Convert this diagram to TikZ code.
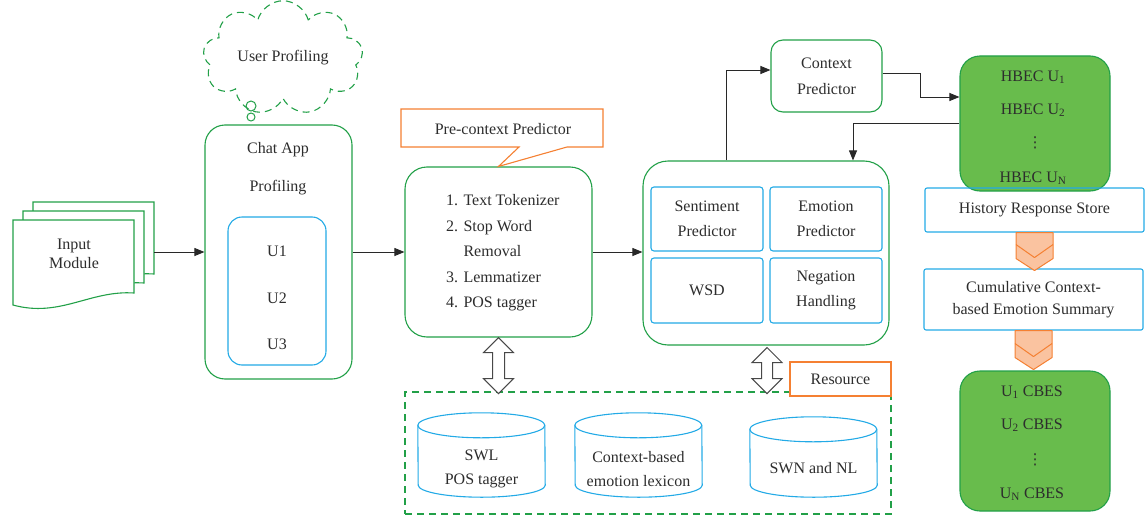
\documentclass[tikz,border=0pt]{standalone}
\usepackage{fontspec}
\setmainfont{Liberation Serif}
\newfontfamily\dejavu{DejaVu Sans}
\usetikzlibrary{shapes.symbols,shapes.geometric,arrows.meta}
\definecolor{gline}{RGB}{34,160,72}
\definecolor{bline}{RGB}{35,170,230}
\definecolor{oline}{RGB}{245,128,50}
\definecolor{gfill}{RGB}{104,188,76}
\definecolor{chfill}{RGB}{250,195,160}
\definecolor{txt}{RGB}{45,45,45}
\definecolor{conn}{RGB}{40,40,40}
\tikzset{
  lbl/.style={font=\fontsize{16}{25}\selectfont, text=txt, align=center, inner sep=0pt},
  gbox/.style={draw=gline, line width=1.1pt, fill=white},
  bbox/.style={draw=bline, line width=1.1pt, rounded corners=3pt},
  obox/.style={draw=oline, line width=1.1pt, fill=white},
  fbox/.style={draw=gline, line width=1.1pt, fill=gfill, rounded corners=20pt},
  arr/.style={draw=conn, line width=0.9pt, -{Triangle[length=10pt,width=8pt]}},
  harrow/.style={draw=conn!85, line width=1pt, fill=white, line join=miter},
  chev/.style={draw=oline, line width=1pt, fill=chfill, line join=round},
  doc/.style={draw=gline, line width=1.1pt, fill=white},
  cylst/.style={draw=bline, line width=1.1pt},
  dbarea/.style={minimum width=127pt, minimum height=84pt, inner sep=0pt},
  vdot/.style={font=\dejavu\fontsize{15}{15}\selectfont, text=txt, inner sep=0pt},
}
\newcommand\dbdraw[1]{%
  \draw[cylst] ([yshift=-12.5pt]#1.north west) arc[start angle=180,end angle=0,x radius=63.5pt,y radius=12.5pt]
     -- ([yshift=12pt]#1.south east) arc[start angle=0,end angle=-180,x radius=63.5pt,y radius=12pt] -- cycle;
  \draw[cylst] ([yshift=-12.5pt]#1.north west) arc[start angle=180,end angle=360,x radius=63.5pt,y radius=12.5pt];
}
\begin{document}
\begin{tikzpicture}[x=1pt,y=-1pt]
\useasboundingbox (0,0) rectangle (1145,519);

% ---------- input module (stacked documents)
\draw[doc] (33,202) -- (154,202) -- (154,274) .. controls (110,271) and (80,298) .. (33,286) -- cycle;
\draw[doc] (23,211) -- (144,211) -- (144,283) .. controls (100,280) and (70,307) .. (23,296) -- cycle;
\draw[doc] (13,220) -- (134,220) -- (134,293) .. controls (90,290) and (60,318) .. (13,305) -- cycle;
\node[lbl, font=\fontsize{16}{19}\selectfont] (input) at (74,254) {Input\\Module};
\coordinate (inR) at (154,252);

% ---------- user profiling cloud
\node[cloud, cloud puffs=9, aspect=1.5, draw=gline, line width=1.1pt, dash pattern=on 7pt off 5pt,
      minimum width=160pt, minimum height=106pt, lbl] (cloud) at (283,58) {User Profiling};
\draw[gline, line width=1pt] (251,106) circle[radius=5pt];
\draw[gline, line width=1pt] (251,117) circle[radius=4pt];

% ---------- chat app profiling
\node[gbox, rounded corners=20pt, minimum width=147pt, minimum height=254pt] (chat) at (278.5,252) {};
\node[lbl] (chat1) at (278,150) {Chat App};
\node[lbl] (chat2) at (278,188) {Profiling};
\node[bbox, rounded corners=14pt, minimum width=98pt, minimum height=148pt] (users) at (277,291) {};
\node[lbl] (u1) at (277,251) {U1};
\node[lbl] (u2) at (277,298) {U2};
\node[lbl] (u3) at (277,344) {U3};

% ---------- pre-context predictor
\node[gbox, rounded corners=22pt, minimum width=187pt, minimum height=170pt] (pre) at (498.5,252) {};
\node[lbl, align=left, anchor=west, font=\fontsize{16}{25.5}\selectfont] (steps) at (446,253)
  {1. Text Tokenizer\\2. Stop Word\\\phantom{2. }Removal\\3. Lemmatizer\\4. POS tagger};
\draw[obox, line join=miter] (401,109) -- (603,109) -- (603,147) -- (567,147) -- (pre.north) -- (519,147) -- (401,147) -- cycle;
\node[lbl] (callout) at (503,129) {Pre-context Predictor};

% ---------- predictor block
\node[gbox, rounded corners=25pt, minimum width=246pt, minimum height=184pt] (big) at (766,253) {};
\node[bbox, minimum width=112pt, minimum height=64pt, lbl] (sent) at (707,219) {Sentiment\\Predictor};
\node[bbox, minimum width=112pt, minimum height=64pt, lbl] (emo) at (826,219) {Emotion\\Predictor};
\node[bbox, minimum width=112pt, minimum height=65pt, lbl] (wsd) at (707,290.5) {WSD};
\node[bbox, minimum width=112pt, minimum height=65pt, lbl] (neg) at (826,290.5) {Negation\\Handling};

% ---------- context predictor
\node[gbox, rounded corners=12pt, minimum width=111pt, minimum height=72pt, lbl, font=\fontsize{16}{26}\selectfont] (ctx) at (826.5,76) {Context\\Predictor};

% ---------- HBEC store
\node[fbox, minimum width=150pt, minimum height=135pt] (hbec) at (1035,123.5) {};
\node[lbl] (h1) at (1033,77) {HBEC U\textsubscript{1}};
\node[lbl] (h2) at (1033,110) {HBEC U\textsubscript{2}};
\node[vdot] (h3) at (1035,143) {⋮};
\node[lbl] (h4) at (1033,178) {HBEC U\textsubscript{N}};

\node[bbox, rounded corners=2pt, minimum width=219pt, minimum height=44pt, lbl] (hist) at (1034.5,210) {History Response Store};
\node[bbox, rounded corners=2pt, minimum width=219pt, minimum height=61pt, lbl, font=\fontsize{16}{22}\selectfont] (cum) at (1033.5,299.5) {Cumulative Context-\\based Emotion Summary};

% chevrons
\draw[chev] (hist.south) ++(-18.5,0) -- ++(37,0) -- ++(0,26) -- ++(-18.5,12) -- ++(-18.5,-12) -- cycle;
\draw[oline, line width=1pt, line join=round] (hist.south) ++(-18.5,12) -- ++(18.5,13) -- ++(18.5,-13);
\draw[chev] (cum.south) ++(-18.5,0) -- ++(37,0) -- ++(0,27) -- ++(-18.5,12) -- ++(-18.5,-12) -- cycle;
\draw[oline, line width=1pt, line join=round] (cum.south) ++(-18.5,13) -- ++(18.5,13) -- ++(18.5,-13);

% ---------- CBES store
\node[fbox, minimum width=150pt, minimum height=140pt] (cbes) at (1035,441) {};
\node[lbl] (c1) at (1032,392) {U\textsubscript{1} CBES};
\node[lbl] (c2) at (1032,425) {U\textsubscript{2} CBES};
\node[vdot] (c3) at (1035,460) {⋮};
\node[lbl] (c4) at (1032,494) {U\textsubscript{N} CBES};

% ---------- resources
\node[draw=gline, line width=1.1pt, dash pattern=on 7pt off 5pt, minimum width=486pt, minimum height=122pt] (res) at (648,453) {};
\node[obox, minimum width=101pt, minimum height=34pt, lbl] (reslab) at (840.5,379) {Resource};
\node[dbarea] (swl) at (481.5,455) {};
\dbdraw{swl}
\node[lbl, font=\fontsize{16}{24}\selectfont] (swlt) at (481.5,469) {SWL\\POS tagger};
\node[dbarea] (cbl) at (638.5,455) {};
\dbdraw{cbl}
\node[lbl, font=\fontsize{16}{24}\selectfont] (cblt) at (638.5,469) {Context-based\\emotion lexicon};
\node[dbarea, minimum height=80pt] (swn) at (813.5,457) {};
\dbdraw{swn}
\node[lbl] (swnt) at (813.5,468) {SWN and NL};

% hollow double arrows
\draw[harrow] (pre.south) -- ++(15,15) -- ++(-9,0) -- ++(0,26) -- ++(9,0) -- ++(-15,15)
  -- ++(-15,-15) -- ++(9,0) -- ++(0,-26) -- ++(-9,0) -- cycle;
\draw[harrow] ([xshift=1pt,yshift=-2pt]big.south) -- ++(15,15) -- ++(-9.5,0) -- ++(0,16) -- ++(9.5,0) -- ++(-15,15)
  -- ++(-15,-15) -- ++(9.5,0) -- ++(0,-16) -- ++(-9.5,0) -- cycle;

% ---------- connectors
\draw[arr] (inR) -- (chat.west);
\draw[arr] (chat.east) -- (pre.west);
\draw[arr] (pre.east) -- (pre.east -| big.west);
\draw[arr] ([xshift=-40pt]big.north) |- ([yshift=6pt]ctx.west);
\draw[arr] ([yshift=3pt]ctx.east) -- ++(38,0) |- ([yshift=26.5pt]hbec.west);
\draw[arr] ([yshift=0.5pt]hbec.west) -| ([xshift=87pt]big.north);
\end{tikzpicture}
\end{document}
